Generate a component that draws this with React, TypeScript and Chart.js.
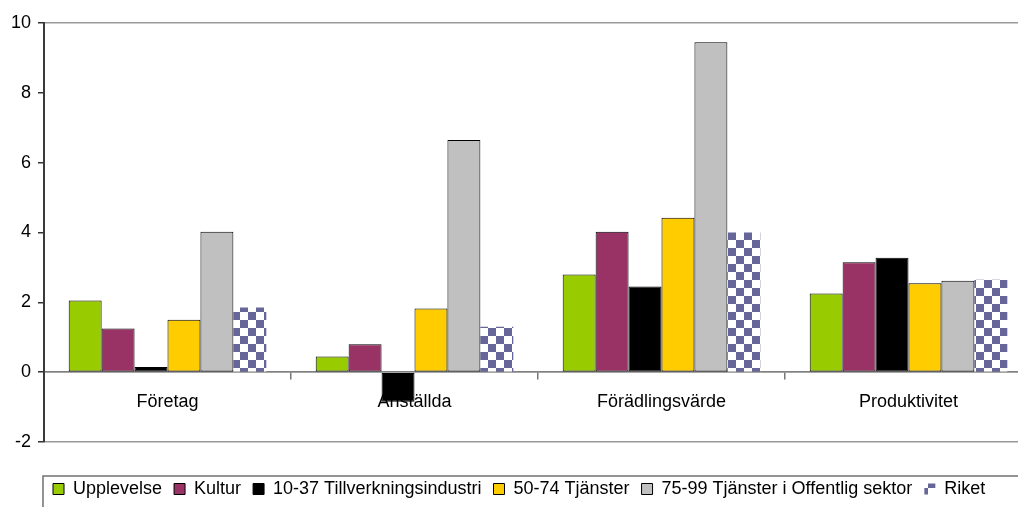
import React, { useEffect, useRef } from "react";
import { Chart, registerables } from "chart.js";

Chart.register(...registerables);

const categories = ["Företag", "Anställda", "Förädlingsvärde", "Produktivitet"];
const seriesNames = [
  "Upplevelse",
  "Kultur",
  "10-37 Tillverkningsindustri",
  "50-74 Tjänster",
  "75-99 Tjänster i Offentlig sektor",
  "Riket",
];
const upplevelse = [2.05, 0.45, 2.8, 2.25];
const kultur = [1.25, 0.8, 4.02, 3.15];
const tillverkning = [0.15, -0.85, 2.45, 3.28];
const tjanster = [1.5, 1.82, 4.42, 2.55];
const offentlig = [4.02, 6.65, 9.45, 2.62];
const riket = [1.85, 1.3, 4.0, 2.65];
const seriesColors = ["#99CC00", "#993366", "#000000", "#FFCC00", "#C0C0C0"];
const yMin = -2;
const yMax = 10;
const yStep = 2;

const FONT = "'Liberation Sans', Arial, sans-serif";

function makeChecker(ctx: CanvasRenderingContext2D): CanvasPattern | string {
  const c = document.createElement("canvas");
  c.width = 16;
  c.height = 16;
  const g = c.getContext("2d");
  if (!g) return "#666699";
  g.fillStyle = "#ffffff";
  g.fillRect(0, 0, 16, 16);
  g.fillStyle = "#666699";
  g.fillRect(0, 0, 8, 8);
  g.fillRect(8, 8, 8, 8);
  return ctx.createPattern(c, "repeat") || "#666699";
}

const LEGEND_LEFT = 41;

const legendBox = {
  id: "legendBox",
  beforeDraw(chart: any) {
    const lg = chart.legend;
    if (lg) lg.left = LEGEND_LEFT;
  },
  afterDraw(chart: any) {
    const lg = chart.legend;
    if (!lg) return;
    const ctx = chart.ctx;
    ctx.save();
    ctx.strokeStyle = "#707070";
    ctx.lineWidth = 1.5;
    ctx.strokeRect(LEGEND_LEFT + 2, lg.top + 8, 1200, 100);
    ctx.restore();
  },
};

export default function App() {
  const ref = useRef<HTMLCanvasElement>(null);

  useEffect(() => {
    const canvas = ref.current;
    if (!canvas) return;
    const ctx = canvas.getContext("2d");
    if (!ctx) return;
    const checker = makeChecker(ctx);
    const values = [upplevelse, kultur, tillverkning, tjanster, offentlig];
    const datasets: any[] = values.map((v, i) => ({
      label: seriesNames[i],
      data: v,
      backgroundColor: seriesColors[i],
      borderColor: "#000000",
      borderWidth: 1,
      borderSkipped: false,
      categoryPercentage: 0.8,
      barPercentage: 1.0,
    }));
    datasets.push({
      label: seriesNames[5],
      data: riket,
      backgroundColor: checker,
      borderColor: "rgba(0,0,0,0)",
      borderWidth: 0,
      categoryPercentage: 0.8,
      barPercentage: 1.0,
    });

    const chart = new Chart(ctx, {
      type: "bar",
      data: { labels: categories, datasets },
      plugins: [legendBox],
      options: {
        animation: false,
        responsive: false,
        devicePixelRatio: 1,
        layout: { padding: { left: 0, right: 18, top: 23, bottom: 4 } },
        plugins: {
          tooltip: { enabled: false },
          legend: {
            position: "bottom",
            align: "start",
            labels: {
              boxWidth: 11,
              boxHeight: 11,
              padding: 12,
              color: "#000000",
              font: { family: FONT, size: 18 },
            },
          },
        },
        scales: {
          x: {
            position: { y: 0 } as any,
            grid: {
              offset: true,
              drawOnChartArea: false,
              drawTicks: true,
              tickLength: 7,
              tickColor: "#777777",
              lineWidth: 1.5,
            },
            border: { display: true, color: "#808080", width: 1.5 },
            ticks: {
              color: "#000000",
              padding: 12,
              font: { family: FONT, size: 18 },
              maxRotation: 0,
            },
          },
          x2: {
            axis: "x",
            type: "category",
            position: "bottom",
            grid: { display: false },
            border: { display: false },
            ticks: { display: false },
            afterFit: (s: any) => {
              s.height = 26;
            },
          } as any,
          y: {
            min: yMin,
            max: yMax,
            ticks: {
              stepSize: yStep,
              color: "#000000",
              padding: 7,
              font: { family: FONT, size: 18 },
            },
            grid: {
              drawTicks: true,
              tickLength: 6,
              tickColor: "#333333",
              color: (c: any) =>
                c.tick && (c.tick.value === yMax || c.tick.value === yMin || c.tick.value === 0)
                  ? "#999999"
                  : "rgba(0,0,0,0)",
              lineWidth: 1.5,
            },
            border: { display: true, color: "#3a3a3a", width: 2 },
            afterFit: (s: any) => {
              s.width = 44;
            },
          },
        },
      },
    });
    return () => chart.destroy();
  }, []);

  return (
    <div
      style={{
        position: "fixed",
        left: 0,
        top: 0,
        width: 1018,
        height: 507,
        overflow: "hidden",
        background: "#ffffff",
      }}
    >
      <canvas ref={ref} width={1050} height={512} style={{ display: "block" }} />
    </div>
  );
}
